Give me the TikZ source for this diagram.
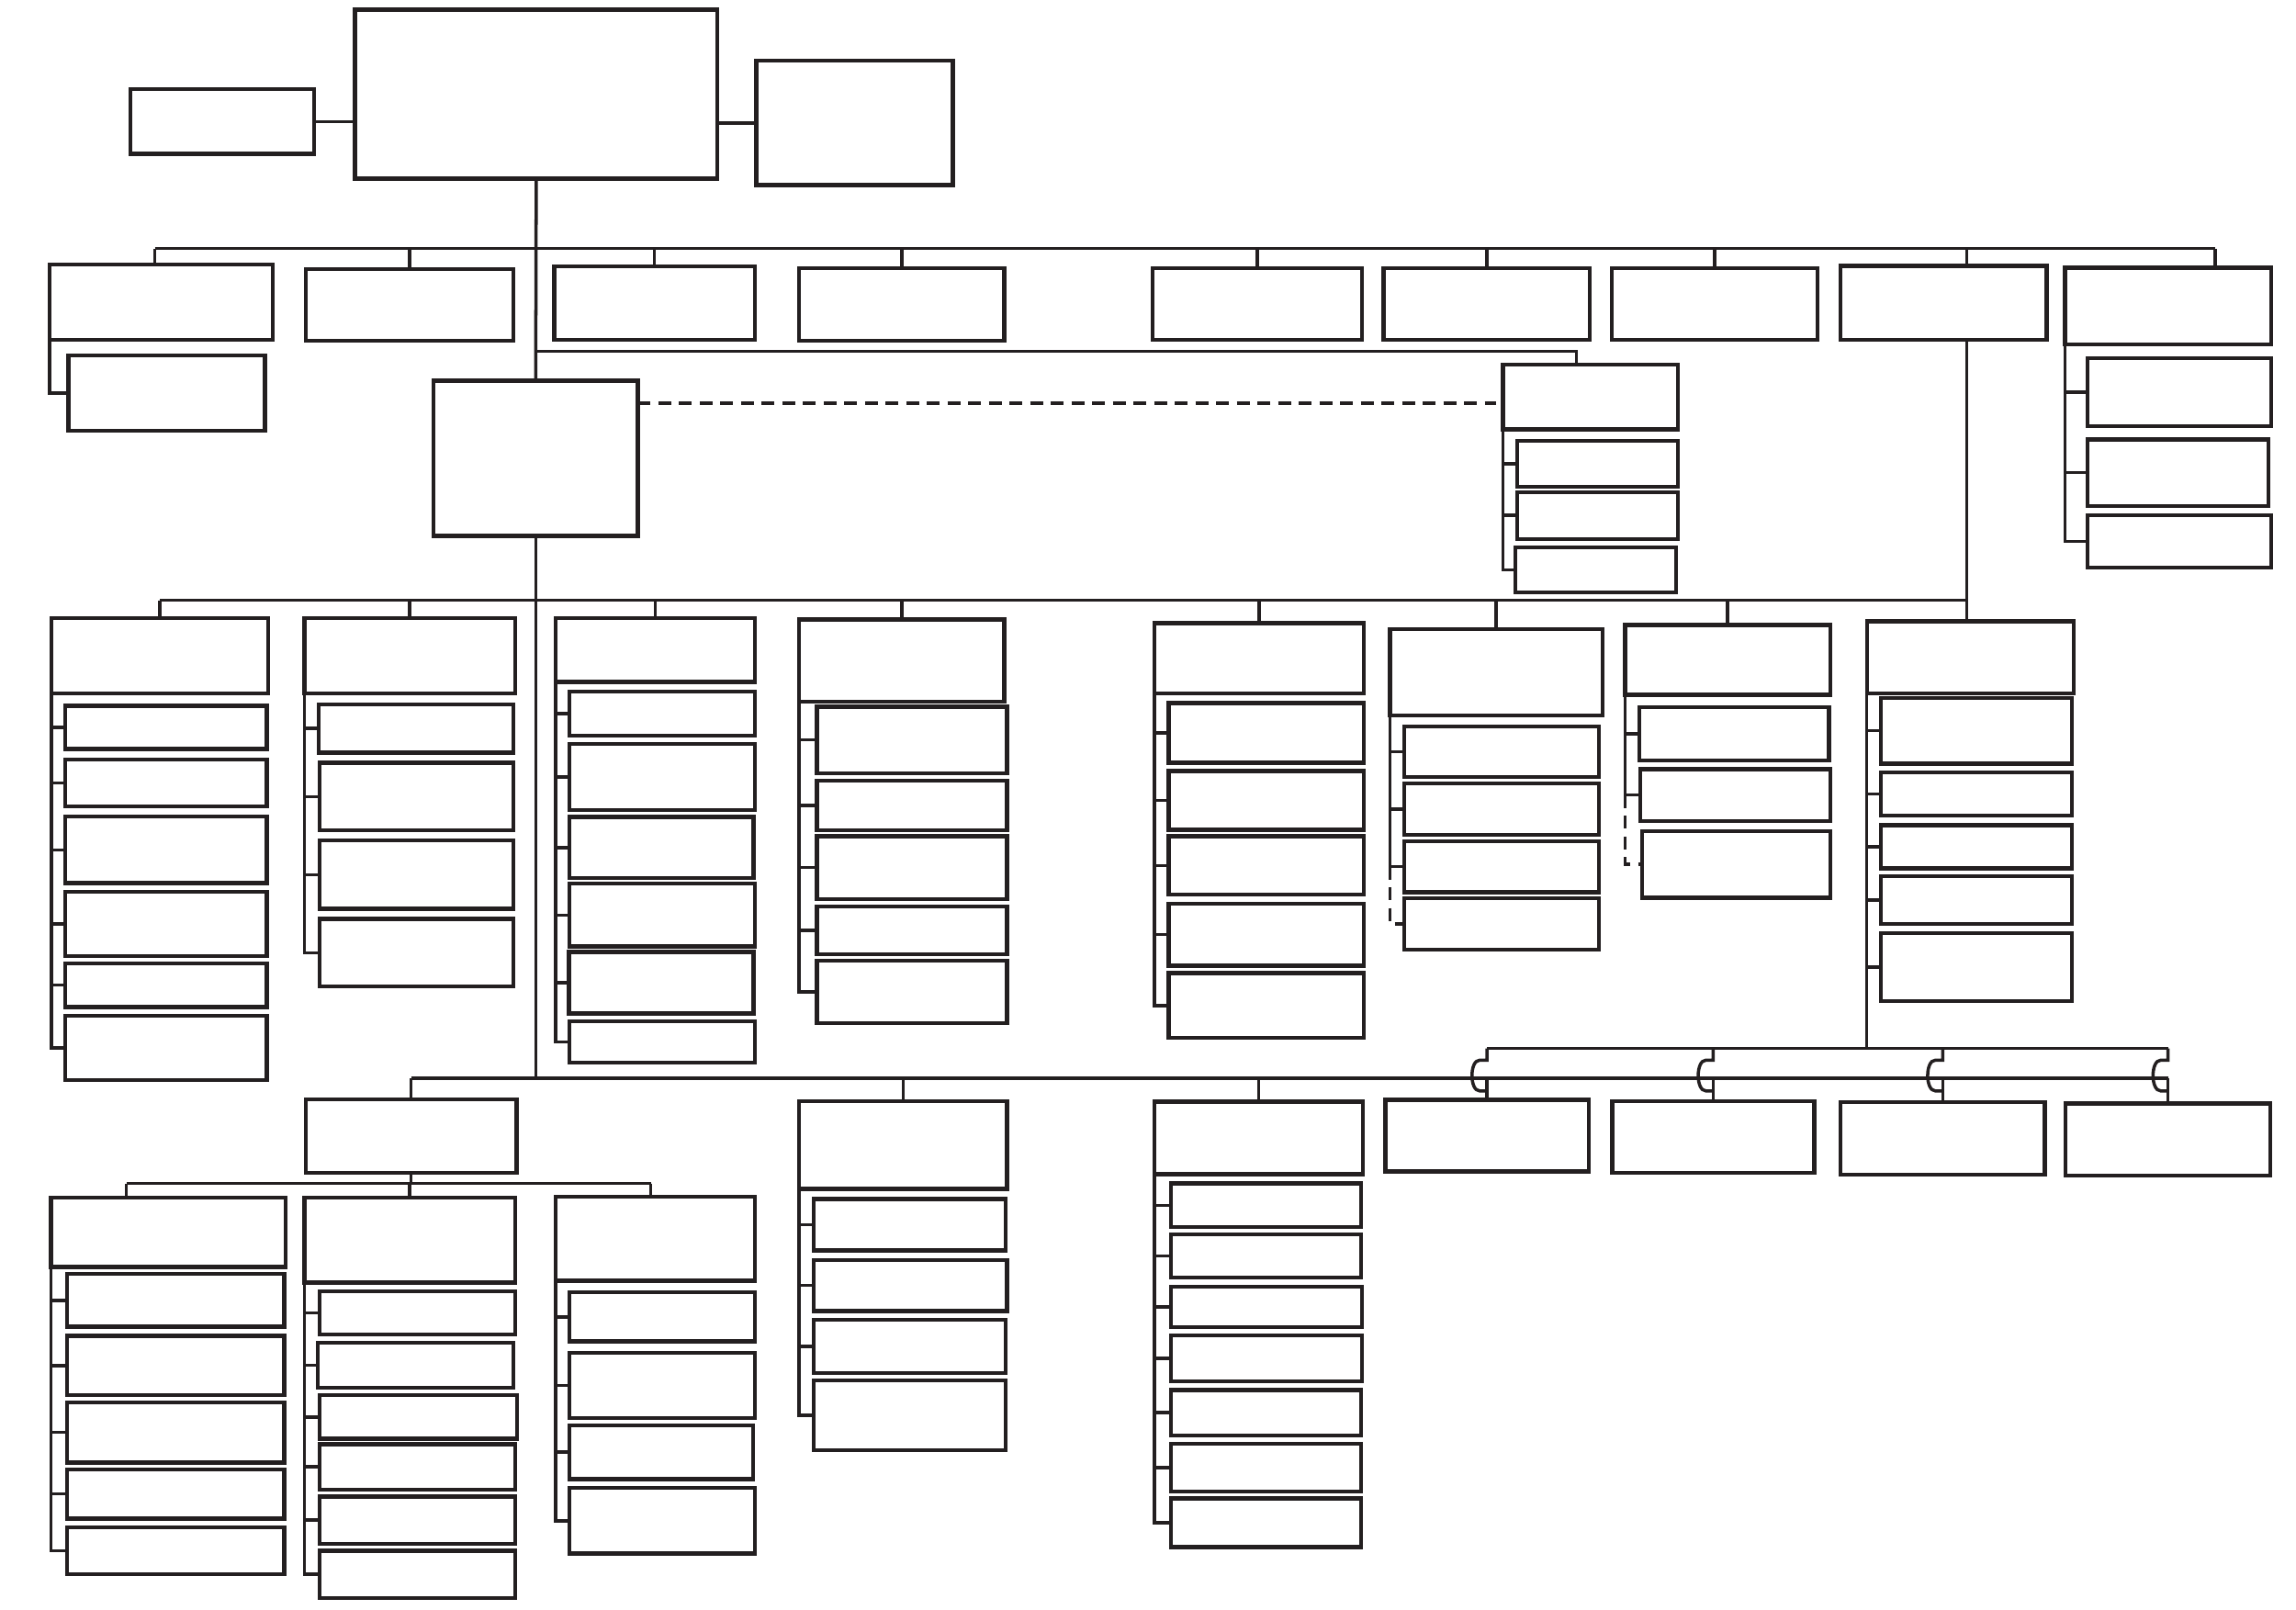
\documentclass[tikz,border=0pt]{standalone}
\usetikzlibrary{fit}
\definecolor{ink}{RGB}{35,31,32}
\begin{document}
\begin{tikzpicture}[x=0.015944cm, y=-0.015944cm,
    box/.style={draw=ink, line width=1.25pt, inner sep=0pt, outer sep=0pt},
    conn/.style={draw=ink, line width=1pt},
    dashconn/.style={conn, line width=1.1pt, dash pattern=on 4pt off 2.4pt}]
  \useasboundingbox (0,0) rectangle (1568,1099);
  % top level
  \node[box, fit={(242.4,6.7) (490,122)}] (ceo) {};
  \node[box, fit={(89,61) (214.5,105)}] (adv) {};
  \node[box, fit={(516.4,41.3) (650.8,126.5)}] (aud) {};
  \node[box, fit={(296.2,260) (435.5,366)}] (dep) {};
  \node[box, fit={(1026.5,249.1) (1146,293.3)}] (sec) {};
  \node[box, fit={(1036.3,301.2) (1146,332.5)}] (sec1) {};
  \node[box, fit={(1036.3,336) (1146,368)}] (sec2) {};
  \node[box, fit={(1035,374) (1144.5,404.5)}] (sec3) {};
  % first row
  \node[box, fit={(33.8,180.5) (186.4,232.1)}] (t1) {};
  \node[box, fit={(46.8,242.7) (181,294)}] (t1a) {};
  \node[box, fit={(208.7,183.8) (350.5,232.8)}] (t2) {};
  \node[box, fit={(378.4,182) (515.6,232)}] (t3) {};
  \node[box, fit={(545.8,183) (685.8,232.8)}] (t4) {};
  \node[box, fit={(787.2,183) (930.3,232)}] (t5) {};
  \node[box, fit={(944.9,183) (1085.7,232)}] (t6) {};
  \node[box, fit={(1100.8,183) (1241.4,232)}] (t7) {};
  \node[box, fit={(1257,181.7) (1397.8,232.1)}] (t8) {};
  \node[box, fit={(1410.3,182.9) (1551.1,235.2)}] (t9) {};
  \node[box, fit={(1425.6,244.8) (1551,290.9)}] (t9a) {};
  \node[box, fit={(1425.6,300) (1549,345.6)}] (t9b) {};
  \node[box, fit={(1425.6,352) (1551,387.5)}] (t9c) {};
  % second row
  \node[box, fit={(35,422) (183,473.5)}] (c1) {};
  \node[box, fit={(44.5,482) (182.3,511.4)}] (c11) {};
  \node[box, fit={(44.5,518.6) (182.3,550.5)}] (c12) {};
  \node[box, fit={(44.5,557.7) (182.3,603)}] (c13) {};
  \node[box, fit={(44.5,609) (182.3,653)}] (c14) {};
  \node[box, fit={(44.5,657.8) (182.3,687.8)}] (c15) {};
  \node[box, fit={(44.5,693.7) (182.3,737.5)}] (c16) {};
  \node[box, fit={(207.9,422) (351.7,473.5)}] (c2) {};
  \node[box, fit={(217.6,481) (350.5,514)}] (c21) {};
  \node[box, fit={(218.4,521) (350.5,567)}] (c22) {};
  \node[box, fit={(218.4,574) (350.5,620.6)}] (c23) {};
  \node[box, fit={(218.4,627.6) (350.5,673.7)}] (c24) {};
  \node[box, fit={(379.6,422) (515.6,465.8)}] (c3) {};
  \node[box, fit={(389,472.3) (515.6,502.5)}] (c31) {};
  \node[box, fit={(389,508) (515.6,553)}] (c32) {};
  \node[box, fit={(389,558) (514.5,599.7)}] (c33) {};
  \node[box, fit={(389,603.5) (515.6,646.3)}] (c34) {};
  \node[box, fit={(388.5,650) (514.5,692)}] (c35) {};
  \node[box, fit={(389,697.5) (515.6,725.7)}] (c36) {};
  \node[box, fit={(545.7,423) (685.8,479)}] (c4) {};
  \node[box, fit={(557.8,482.6) (687.6,528)}] (c41) {};
  \node[box, fit={(557.8,533) (687.6,567)}] (c42) {};
  \node[box, fit={(557.8,571) (687.6,614)}] (c43) {};
  \node[box, fit={(557.8,619) (687.6,651.6)}] (c44) {};
  \node[box, fit={(557.8,655.9) (687.6,698.8)}] (c45) {};
  \node[box, fit={(788.5,425.5) (931.4,473.5)}] (c5) {};
  \node[box, fit={(798.2,480) (931.4,521)}] (c51) {};
  \node[box, fit={(798.2,526.5) (931.4,566.6)}] (c52) {};
  \node[box, fit={(798.2,571) (931.4,611)}] (c53) {};
  \node[box, fit={(798.2,617) (931.4,659.5)}] (c54) {};
  \node[box, fit={(798.2,664.5) (931.4,708.8)}] (c55) {};
  \node[box, fit={(949.3,429.8) (1094.4,488.6)}] (c6) {};
  \node[box, fit={(959,496) (1092,530.6)}] (c61) {};
  \node[box, fit={(959,535) (1092,570)}] (c62) {};
  \node[box, fit={(959,574.5) (1092,609.3)}] (c63) {};
  \node[box, fit={(959,613.4) (1092,648.7)}] (c64) {};
  \node[box, fit={(1109.8,426.7) (1250,474.4)}] (c7) {};
  \node[box, fit={(1119.5,483) (1249,519.3)}] (c71) {};
  \node[box, fit={(1120,525.3) (1250,560.6)}] (c72) {};
  \node[box, fit={(1121.3,567.8) (1250,613)}] (c73) {};
  \node[box, fit={(1274.9,424.3) (1416.2,473.5)}] (c8) {};
  \node[box, fit={(1284.4,476.6) (1414.9,521.5)}] (c81) {};
  \node[box, fit={(1284.4,527.5) (1414.9,557)}] (c82) {};
  \node[box, fit={(1284.4,563.5) (1414.9,593)}] (c83) {};
  \node[box, fit={(1284.4,598.5) (1414.9,631)}] (c84) {};
  \node[box, fit={(1284.4,637.4) (1414.9,683.5)}] (c85) {};
  % third row
  \node[box, fit={(208.7,750.6) (352.7,801)}] (b1) {};
  \node[box, fit={(545.8,752) (687.6,811.8)}] (b2) {};
  \node[box, fit={(788.5,752.4) (930.6,801.8)}] (b3) {};
  \node[box, fit={(946,751) (1085,800)}] (r1) {};
  \node[box, fit={(1101,752) (1239,801)}] (r2) {};
  \node[box, fit={(1257,752.6) (1396.5,802)}] (r3) {};
  \node[box, fit={(1410.7,753.6) (1550.5,803)}] (r4) {};
  \node[box, fit={(555.8,818.9) (686.6,854)}] (b21) {};
  \node[box, fit={(555.8,860.4) (687.6,895.3)}] (b22) {};
  \node[box, fit={(555.8,901.4) (686.6,937.7)}] (b23) {};
  \node[box, fit={(555.8,942.7) (686.6,990.2)}] (b24) {};
  \node[box, fit={(799.5,808.2) (929.5,837.9)}] (b31) {};
  \node[box, fit={(799.5,843) (929.5,872.5)}] (b32) {};
  \node[box, fit={(799.5,878.6) (930,906.2)}] (b33) {};
  \node[box, fit={(799.5,912) (930,943.4)}] (b34) {};
  \node[box, fit={(799.5,949.3) (929.5,980.2)}] (b35) {};
  \node[box, fit={(799.5,986) (929.5,1018.6)}] (b36) {};
  \node[box, fit={(799.5,1023.3) (929.5,1056.6)}] (b37) {};
  % fourth row
  \node[box, fit={(34.8,817.7) (195.1,865.2)}] (ba) {};
  \node[box, fit={(45.6,870) (194,906)}] (ba1) {};
  \node[box, fit={(45.6,912.3) (194,952.9)}] (ba2) {};
  \node[box, fit={(45.6,957.7) (194,998.7)}] (ba3) {};
  \node[box, fit={(45.6,1003.5) (194,1037)}] (ba4) {};
  \node[box, fit={(45.6,1043) (194,1075)}] (ba5) {};
  \node[box, fit={(207.9,817.7) (351.7,875.8)}] (bb) {};
  \node[box, fit={(218.4,882) (351.7,911.4)}] (bb1) {};
  \node[box, fit={(217,916.8) (350.5,947.7)}] (bb2) {};
  \node[box, fit={(218.4,952.9) (353,982.6)}] (bb3) {};
  \node[box, fit={(218.4,986.3) (351.7,1017.2)}] (bb4) {};
  \node[box, fit={(218.4,1022) (351.7,1054.2)}] (bb5) {};
  \node[box, fit={(218.4,1059) (351.7,1091.2)}] (bb6) {};
  \node[box, fit={(379.6,817.3) (515.6,874.6)}] (bc) {};
  \node[box, fit={(389,882.5) (515.6,916)}] (bc1) {};
  \node[box, fit={(389,923.7) (515.6,968.4)}] (bc2) {};
  \node[box, fit={(389,973.5) (514.4,1010)}] (bc3) {};
  \node[box, fit={(389,1016.2) (515.6,1060.8)}] (bc4) {};
  % bus lines
  \coordinate (bar1) at (0,169.7);
  \coordinate (bar2) at (0,410);
  \coordinate (bar3) at (0,736.3);
  \coordinate (bar4) at (0,808.2);
  \coordinate (upbar) at (0,716);
  \coordinate (j1) at (105.7,169.7);
  \coordinate (j8) at (1343,169.7);
  \coordinate (j9) at (1512.9,169.7);
  \coordinate (s0) at (1076.7,240);
  \coordinate (k1) at (86.3,808.2);
  \coordinate (k3) at (444.4,808.2);
  \coordinate (dsh) at (1022,275.3);
  % top connectors
  \draw[conn] (adv.east) -- (adv.east -| ceo.west);
  \draw[conn] (aud.west) -- (aud.west -| ceo.east);
  \draw[conn] (ceo.south) -- (dep.north);
  \draw[conn] (j1) -- (j9);
  \draw[conn] (j1) -- (j1 |- t1.north);
  \foreach \t in {t2,t3,t4,t5,t6,t7}
    \draw[conn] (\t.north |- bar1) -- (\t.north);
  \draw[conn] (j8) -- (j8 |- t8.north);
  \draw[conn] (j8 |- t8.south) -- (j8 |- c8.north);
  \draw[conn] (j9) -- (j9 |- t9.north);
  \draw[conn] (t1.south west) |- (t1a.west);
  \draw[conn] (t9.south west) |- (t9c.west);
  \foreach \s in {t9a,t9b}
    \draw[conn] (\s.west) -- (\s.west -| t9.west);
  \draw[conn] (dep.north |- s0) -- (s0) -- (s0 |- sec.north);
  \draw[conn] (sec.south west) |- (sec3.west);
  \foreach \s in {sec1,sec2}
    \draw[conn] (\s.west) -- (\s.west -| sec.west);
  \draw[dashconn] (dsh -| dep.east) -- (dsh);
  % second row connectors
  \draw[conn] (dep.south) -- (dep.south |- bar3);
  \draw[conn] (c1.north |- bar2) -- (j8 |- bar2);
  \foreach \c in {c1,c2,c3,c4,c5,c6,c7}
    \draw[conn] (\c.north |- bar2) -- (\c.north);
  \draw[conn] (c1.south west) |- (c16.west);
  \foreach \s in {c11,c12,c13,c14,c15}
    \draw[conn] (\s.west) -- (\s.west -| c1.west);
  \draw[conn] (c2.south west) |- (c24.west);
  \foreach \s in {c21,c22,c23}
    \draw[conn] (\s.west) -- (\s.west -| c2.west);
  \draw[conn] (c3.south west) |- (c36.west);
  \foreach \s in {c31,c32,c33,c34,c35}
    \draw[conn] (\s.west) -- (\s.west -| c3.west);
  \draw[conn] (c4.south west) |- (c45.west);
  \foreach \s in {c41,c42,c43,c44}
    \draw[conn] (\s.west) -- (\s.west -| c4.west);
  \draw[conn] (c5.south west) |- (c55.west);
  \foreach \s in {c51,c52,c53,c54}
    \draw[conn] (\s.west) -- (\s.west -| c5.west);
  \draw[conn] (c6.south west) |- (c63.west);
  \foreach \s in {c61,c62}
    \draw[conn] (\s.west) -- (\s.west -| c6.west);
  \draw[dashconn] (c63.west -| c6.west) |- (c64.west);
  \draw[conn] (c7.south west) |- (c72.west);
  \draw[conn] (c71.west) -- (c71.west -| c7.west);
  \draw[dashconn] (c72.west -| c7.west) |- (c73.west);
  \draw[conn] (c8.south west) -- (c8.west |- upbar);
  \foreach \s in {c81,c82,c83,c84,c85}
    \draw[conn] (\s.west) -- (\s.west -| c8.west);
  % third row connectors
  \draw[conn] (b1.north |- bar3) -- (r4.north |- bar3);
  \foreach \b in {b1,b2,b3,r1,r2,r3,r4}
    \draw[conn] (\b.north |- bar3) -- (\b.north);
  \draw[conn] (r1.north |- upbar) -- (r4.north |- upbar);
  \foreach \x in {1015.5,1170,1326.7,1480.6}
    \draw[conn] (\x,716) -- (\x,724) -- (\x-5,724) .. controls (\x-12,724) and (\x-12,745) .. (\x-5,745) -- (\x,745);
  \draw[conn] (b2.south west) |- (b24.west);
  \foreach \s in {b21,b22,b23}
    \draw[conn] (\s.west) -- (\s.west -| b2.west);
  \draw[conn] (b3.south west) |- (b37.west);
  \foreach \s in {b31,b32,b33,b34,b35,b36}
    \draw[conn] (\s.west) -- (\s.west -| b3.west);
  % fourth row connectors
  \draw[conn] (b1.south) -- (b1.south |- bar4);
  \draw[conn] (k1) -- (k3);
  \draw[conn] (k1) -- (k1 |- ba.north);
  \draw[conn] (bb.north |- bar4) -- (bb.north);
  \draw[conn] (k3) -- (k3 |- bc.north);
  \draw[conn] (ba.south west) |- (ba5.west);
  \foreach \s in {ba1,ba2,ba3,ba4}
    \draw[conn] (\s.west) -- (\s.west -| ba.west);
  \draw[conn] (bb.south west) |- (bb6.west);
  \foreach \s in {bb1,bb2,bb3,bb4,bb5}
    \draw[conn] (\s.west) -- (\s.west -| bb.west);
  \draw[conn] (bc.south west) |- (bc4.west);
  \foreach \s in {bc1,bc2,bc3}
    \draw[conn] (\s.west) -- (\s.west -| bc.west);
\end{tikzpicture}
\end{document}
